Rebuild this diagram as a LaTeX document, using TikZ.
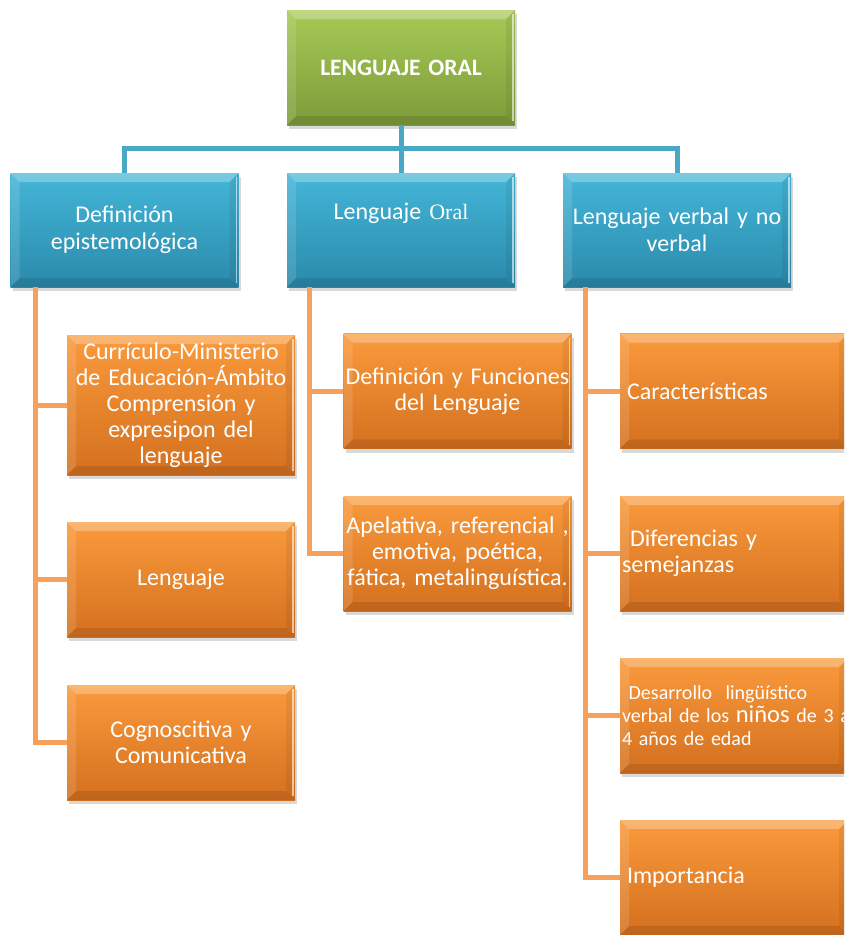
\documentclass[tikz,border=0pt]{standalone}
\usepackage{fontspec}
\setmainfont{Carlito}
\newfontfamily\seriforal{Liberation Serif}
\usetikzlibrary{shadows}
\definecolor{greenT}{HTML}{A6C955}
\definecolor{greenB}{HTML}{7D9C3A}
\definecolor{blueT}{HTML}{44B6D8}
\definecolor{blueB}{HTML}{2A8AAB}
\definecolor{orT}{HTML}{FA9A3C}
\definecolor{orB}{HTML}{D4701F}
\definecolor{bline}{HTML}{48A8C6}
\definecolor{oline}{HTML}{F8A05A}
\tikzset{
  bevel/.style={path picture={
    \fill[white,opacity=0.28] (path picture bounding box.north west) -- (path picture bounding box.north east)
      -- ([shift={(-9pt,-9pt)}]path picture bounding box.north east) -- ([shift={(9pt,-9pt)}]path picture bounding box.north west) -- cycle;
    \fill[white,opacity=0.12] (path picture bounding box.north west) -- ([shift={(9pt,-9pt)}]path picture bounding box.north west)
      -- ([shift={(9pt,9pt)}]path picture bounding box.south west) -- (path picture bounding box.south west) -- cycle;
    \fill[black,opacity=0.10] (path picture bounding box.south west) -- ([shift={(9pt,9pt)}]path picture bounding box.south west)
      -- ([shift={(-9pt,9pt)}]path picture bounding box.south east) -- (path picture bounding box.south east) -- cycle;
    \fill[black,opacity=0.06] (path picture bounding box.north east) -- ([shift={(-9pt,-9pt)}]path picture bounding box.north east)
      -- ([shift={(-9pt,9pt)}]path picture bounding box.south east) -- (path picture bounding box.south east) -- cycle;
    \draw[white,opacity=0.6,line width=1.2pt] ([shift={(-2pt,-4pt)}]path picture bounding box.north east) -- ([shift={(-2pt,4pt)}]path picture bounding box.south east);
  }},
  box/.style={rectangle, minimum height=115pt, text width=224pt, inner xsep=2pt, inner ysep=0pt,
    text=white, font=\fontsize{24}{26}\selectfont, bevel,
    execute at begin node={\hyphenpenalty=10000\exhyphenpenalty=10000},
    drop shadow={shadow xshift=2pt, shadow yshift=-4pt, opacity=0.3}},
  gbox/.style={box, top color=greenT, bottom color=greenB, align=center, font=\fontsize{23.5}{26}\selectfont\bfseries},
  bbox/.style={box, top color=blueT, bottom color=blueB, align=center, minimum height=114pt, font=\fontsize{24}{27}\selectfont},
  obox/.style={box, top color=orT, bottom color=orB, align=center},
  olbox/.style={box, top color=orT, bottom color=orB, align=left},
  bconn/.style={draw=bline, line width=5pt},
  oconn/.style={draw=oline, line width=5pt},
}
\begin{document}
\begin{tikzpicture}[x=1pt, y=-1pt]
\useasboundingbox (0,0) rectangle (844,935);
\clip (0,0) rectangle (844,935);
% top
\node[gbox] (top) at (401,67.5) {LENGUAJE ORAL};
% second level
\node[bbox] (def) at (124.5,230) {Definición\\ epistemológica};
\node[bbox] (lor) at (401,230) {Lenguaje {\seriforal\fontsize{22}{27}\selectfont Oral}\\[10pt]\mbox{}};
\node[bbox] (lvn) at (677,230) {Lenguaje verbal y no\\ verbal};
% left column
\node[obox, minimum height=140pt] (cur) at (181,405) {Currículo-Ministerio\\ de Educación-Ámbito\\ Comprensión y\\ expresipon del\\ lenguaje};
\node[obox] (len) at (181,579.5) {Lenguaje};
\node[obox] (cog) at (181,742.5) {Cognoscitiva y\\ Comunicativa};
% middle column
\node[obox] (dfl) at (457.5,391) {Definición y Funciones\\ del Lenguaje};
\node[obox] (ape) at (457.5,553.5) {Apelativa, referencial ,\\ emotiva, poética,\\ fática, metalinguística.};
% right column
\node[olbox] (car) at (734,391) {\hspace*{5pt}Características};
\node[olbox] (dif) at (734,553.5) {\ Diferencias y\\ semejanzas};
\node[olbox, font=\fontsize{20}{23}\selectfont] (des) at (734,715.5) {\ Desarrollo\ \ lingüístico\\ \makebox[224pt][l]{verbal de los {\fontsize{24.5}{23}\selectfont niños} de 3 a}\\ 4 años de edad};
\node[olbox] (imp) at (734,877.5) {\hspace*{5pt}Importancia};
% blue connectors
\draw[bconn] (top.south) -- ++(0,23) -| (def.north);
\draw[bconn] (top.south) -- (lor.north);
\draw[bconn] (top.south) -- ++(0,23) -| (lvn.north);
% orange connectors
\draw[oconn] (def.south west) ++(25,0) |- (cur.west);
\draw[oconn] (def.south west) ++(25,0) |- (len.west);
\draw[oconn] (def.south west) ++(25,0) |- (cog.west);
\draw[oconn] (lor.south west) ++(23,0) |- (dfl.west);
\draw[oconn] (lor.south west) ++(23,0) |- (ape.west);
\draw[oconn] (lvn.south west) ++(23,0) |- (car.west);
\draw[oconn] (lvn.south west) ++(23,0) |- (dif.west);
\draw[oconn] (lvn.south west) ++(23,0) |- (des.west);
\draw[oconn] (lvn.south west) ++(23,0) |- (imp.west);
\end{tikzpicture}
\end{document}
